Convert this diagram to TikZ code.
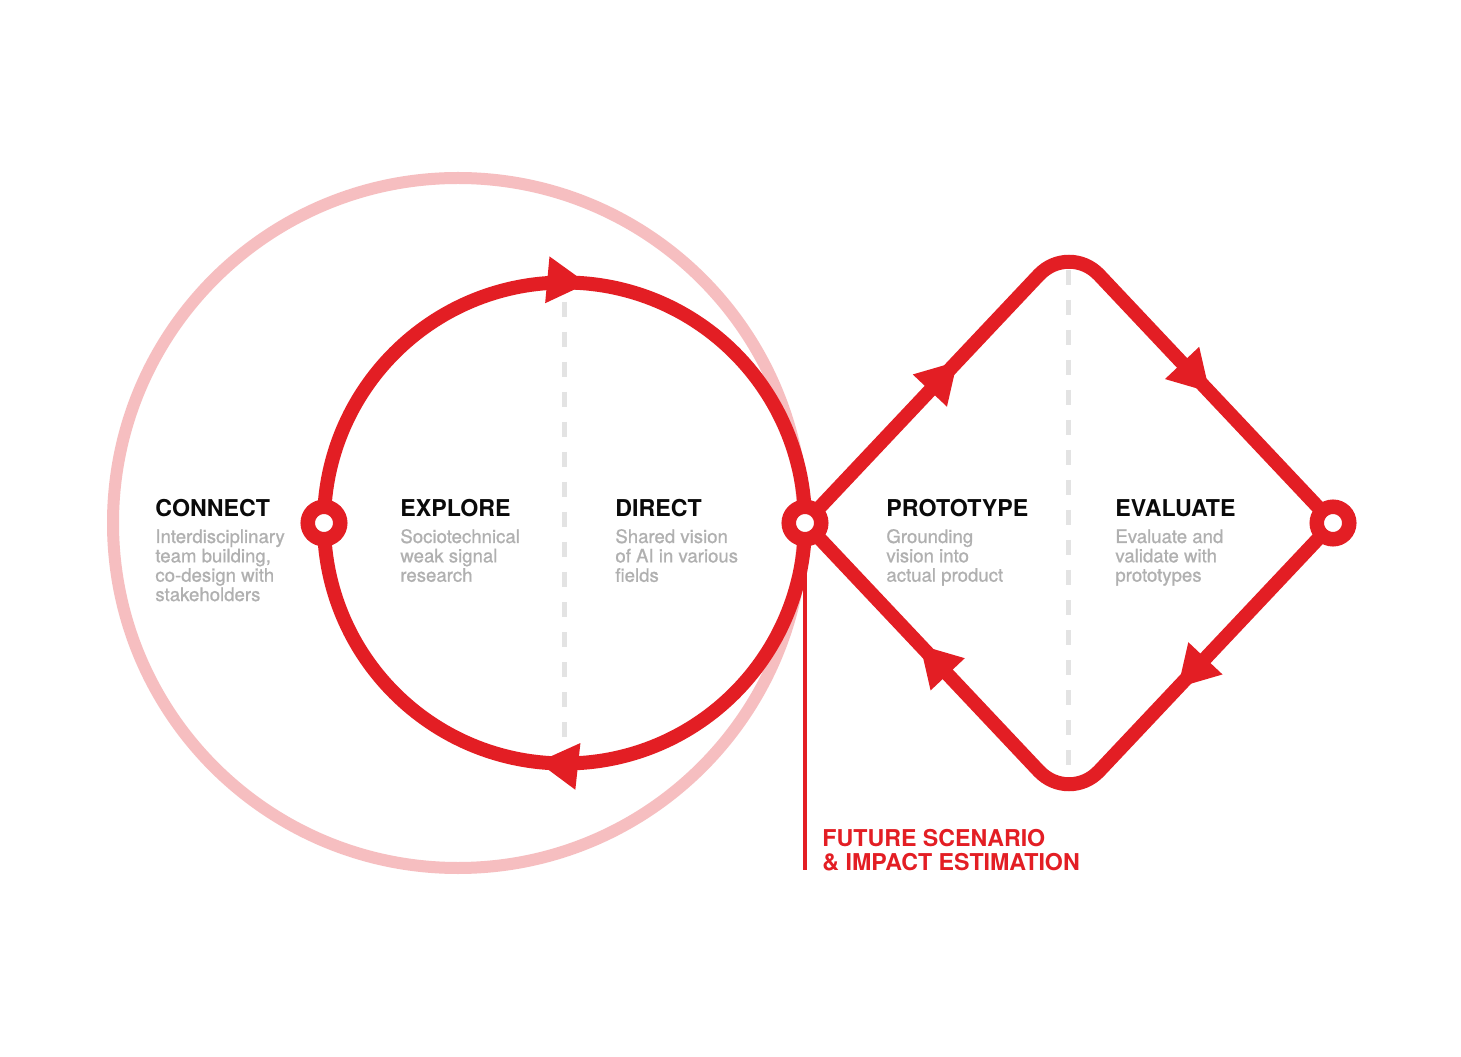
\documentclass[tikz,border=0pt]{standalone}
\usepackage{fontspec}
\setmainfont{TeX Gyre Heros}
\newfontfamily\blurbfont[FakeBold=0.9]{TeX Gyre Heros}
\usetikzlibrary{arrows.meta,decorations.markings,backgrounds}
\definecolor{brandred}{RGB}{227,30,36}
\definecolor{softpink}{RGB}{246,190,192}
\definecolor{dashgray}{RGB}{227,227,227}
\definecolor{copygray}{RGB}{176,176,176}
\definecolor{inkblack}{RGB}{10,10,10}

\begin{document}
\begin{tikzpicture}[x=0.5pt,y=0.5pt,
  loopline/.style={draw=brandred, line width=7pt},
  hub/.style={circle, draw=brandred, fill=white, line width=7.25pt,
    minimum size=16.25pt, inner sep=0pt},
  guide/.style={draw=dashgray, line width=2.5pt, dash pattern=on 7.5pt off 7.5pt},
  flow/.style={postaction={decorate, decoration={markings,
    mark=at position #1 with {\arrow{Triangle[length=20pt,width=23.5pt,line width=0pt]}}}}},
  heading/.style={anchor=base west, inner sep=0pt, text=inkblack,
    font=\fontsize{11.6}{13}\selectfont\bfseries},
  blurb/.style={anchor=base west, inner sep=0pt, text=copygray,
    font=\blurbfont\fontsize{9.3}{9.65}\selectfont},
  callout/.style={anchor=base west, inner sep=0pt, text=brandred,
    font=\fontsize{11.6}{11.5}\selectfont\bfseries},
]
\useasboundingbox (0,0) rectangle (1461,1056);

% stage hubs
\node[hub] (connect) at (324,533) {};
\node[hub] (pivot)   at (805,533) {};
\node[hub] (assess)  at (1333,533) {};

% diamond corners and free line ends
\coordinate (crest)  at (1069,813);
\coordinate (trough) at (1069,253);
\coordinate (stem)   at (805,186);
\coordinate (ringtop) at (564,754);
\coordinate (ringbot) at (564,313);
\coordinate (diatop) at (1068,786);
\coordinate (diabot) at (1068,281);

\begin{scope}[on background layer]
  \fill[white] (0,0) rectangle (1461,1056);
  % outer halo
  \draw[softpink, line width=6pt] (458,533) circle[radius=345];
  % divider guides
  \draw[guide] (ringtop) -- (ringbot);
  \draw[guide] (diatop) -- (diabot);
  % explore / direct loop
  \draw[loopline, flow=0.53] (connect.center) arc[start angle=180, end angle=0, radius=240.5];
  \draw[loopline, flow=0.535] (pivot.center) arc[start angle=0, end angle=-180, radius=240.5];
  % prototype / evaluate loop
  \draw[loopline, rounded corners=22pt, flow=111pt, flow=-90pt]
    (pivot.center) -- (crest) -- (assess.center);
  \draw[loopline, rounded corners=22pt, flow=113pt, flow=-84pt]
    (assess.center) -- (trough) -- (pivot.center);
  % scenario stem
  \draw[brandred, line width=2pt] (pivot.center) -- (stem);
\end{scope}

% stage labels
\node[heading] (connectT) at (155,539) {CONNECT};
\node[blurb] (connectB) at (155,513) {\begin{tabular}[t]{@{}l@{}}Interdisciplinary\\team building,\\co-design with\\stakeholders\end{tabular}};

\node[heading] (exploreT) at (400,539) {EXPLORE};
\node[blurb] (exploreB) at (400,513) {\begin{tabular}[t]{@{}l@{}}Sociotechnical\\weak signal\\research\end{tabular}};

\node[heading] (directT) at (615,539) {DIRECT};
\node[blurb] (directB) at (615,513) {\begin{tabular}[t]{@{}l@{}}Shared vision\\of AI in various\\fields\end{tabular}};

\node[heading] (protoT) at (886,539) {PROTOTYPE};
\node[blurb] (protoB) at (886,513) {\begin{tabular}[t]{@{}l@{}}Grounding\\vision into\\actual product\end{tabular}};

\node[heading] (evalT) at (1115,539) {EVALUATE};
\node[blurb] (evalB) at (1115,513) {\begin{tabular}[t]{@{}l@{}}Evaluate and\\validate with\\prototypes\end{tabular}};

\node[callout] (future) at (822,210) {\begin{tabular}[t]{@{}l@{}}FUTURE SCENARIO\\\& IMPACT ESTIMATION\end{tabular}};
\end{tikzpicture}
\end{document}
